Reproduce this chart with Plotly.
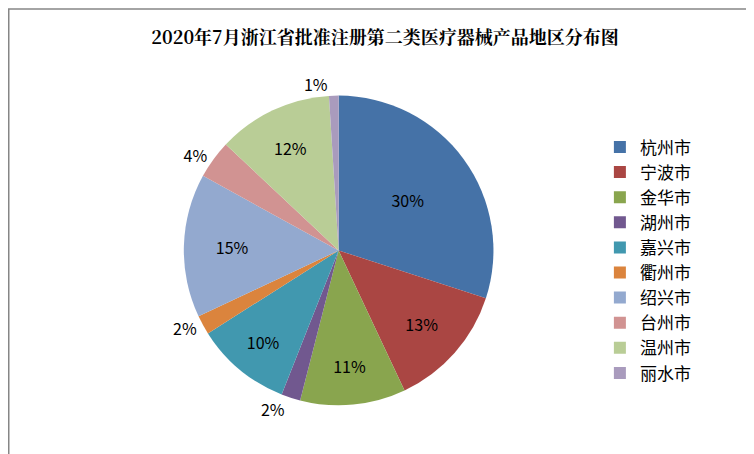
import plotly.graph_objects as go

cities = ['杭州市', '宁波市', '金华市', '湖州市', '嘉兴市', '衢州市', '绍兴市', '台州市', '温州市', '丽水市']
shares = [30, 13, 11, 2, 10, 2, 15, 4, 12, 1]
colors = ['#4572A7', '#AA4643', '#89A54E', '#71588F', '#4198AF',
          '#DB843D', '#93A9CF', '#D19392', '#B9CD96', '#A99BBD']
positions = ['inside' if v >= 10 else 'outside' for v in shares]

fig = go.Figure(go.Pie(
    labels=cities, values=shares, sort=False, direction='clockwise', rotation=0,
    marker=dict(colors=colors, line=dict(color='white', width=0)),
    textinfo='percent', texttemplate='%{value}%', textposition=positions,
    insidetextfont=dict(color='#000000', size=16),
    outsidetextfont=dict(color='#000000', size=16),
    domain=dict(x=[0.233, 0.644], y=[0.125, 0.807]),
    hole=0, showlegend=True,
))

fig.update_layout(
    width=754, height=454,
    margin=dict(l=0, r=0, t=0, b=0),
    paper_bgcolor='white',
    font=dict(family='Noto Sans CJK SC', color='#000000'),
    title=dict(text='<b>2020年7月浙江省批准注册第二类医疗器械产品地区分布图</b>',
               x=0.5, xanchor='center', y=0.935, yanchor='middle',
               font=dict(size=18, family='Noto Serif CJK SC, Noto Sans CJK SC')),
    legend=dict(x=0.785, y=0.445, xanchor='left', yanchor='middle',
                font=dict(size=17), itemwidth=30, tracegroupgap=0),
    shapes=[dict(type='rect', xref='paper', yref='paper', x0=0.001, y0=0.004,
                 x1=0.997, y1=0.998, line=dict(color='#868686', width=1.5))],
)

fig.write_html('out.html')
